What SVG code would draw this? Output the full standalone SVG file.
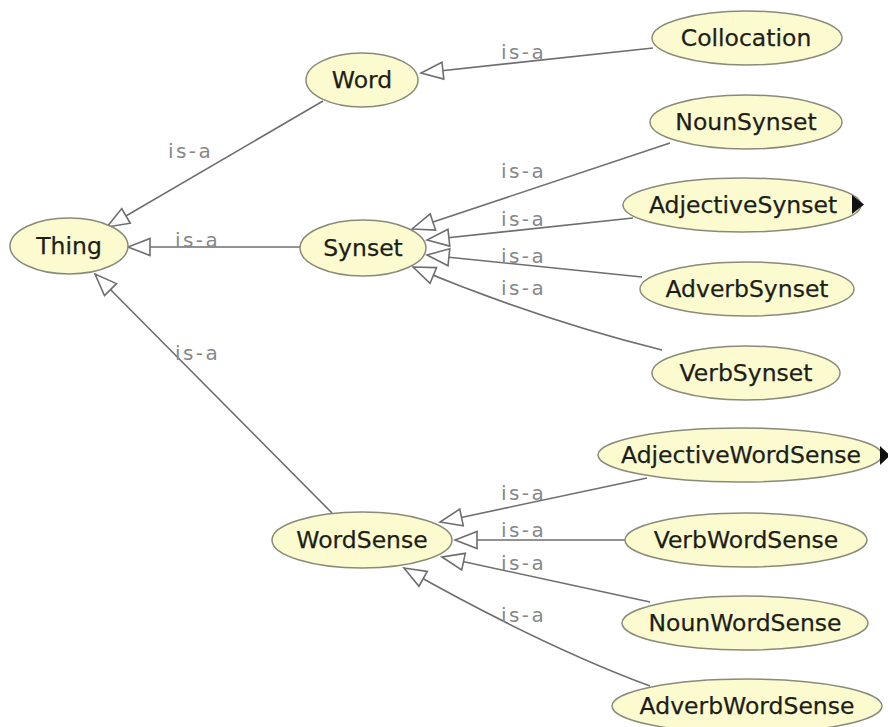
<svg xmlns="http://www.w3.org/2000/svg" width="888" height="727" viewBox="0 0 888 727">
<style>
  .node ellipse { fill: #fbfbcf; stroke: #8a8a7a; stroke-width: 1.5; }
  .node text { font-family: "DejaVu Sans", "Liberation Sans", sans-serif; font-size: 23.5px; fill: #1e1e18; stroke: #1e1e18; stroke-width: 0.25; text-anchor: middle; }
  .edge { fill: none; stroke: #6e6e6e; stroke-width: 1.6; marker-end: url(#hollow); }
  .lbl { font-family: "DejaVu Sans", "Liberation Sans", sans-serif; font-size: 20px; letter-spacing: 2.4px; fill: #878787; }
  .exp { fill: #111; }
</style>
<defs>
  <marker id="hollow" markerUnits="userSpaceOnUse" viewBox="-24 -11 26 22" markerWidth="26" markerHeight="22" refX="0" refY="0" orient="auto">
    <path d="M0,0 L-22,-8.5 L-22,8.5 Z" fill="#ffffff" stroke="#6e6e6e" stroke-width="1.6" stroke-linejoin="miter"/>
  </marker>
</defs>
<rect x="0" y="0" width="888" height="727" fill="#ffffff"/>

<g id="connectors">
  <path class="edge" d="M323,101 L107,227"/>
  <path class="edge" d="M653,48 L421,73"/>
  <path class="edge" d="M300,247 L128,247"/>
  <path class="edge" d="M332,513 L95,274"/>
  <path class="edge" d="M670,143 L412,229"/>
  <path class="edge" d="M633,218 L427,240"/>
  <path class="edge" d="M642,277 L427,255"/>
  <path class="edge" d="M662,350 Q540,320 413,267"/>
  <path class="edge" d="M647,478 L440,522"/>
  <path class="edge" d="M625,540 L455,540"/>
  <path class="edge" d="M650,602 L442,557"/>
  <path class="edge" d="M650,686 Q540,645 404,568"/>
  <text class="lbl" x="501" y="59">is-a</text>
  <text class="lbl" x="168" y="158">is-a</text>
  <text class="lbl" x="175" y="247">is-a</text>
  <text class="lbl" x="175" y="360">is-a</text>
  <text class="lbl" x="501" y="178">is-a</text>
  <text class="lbl" x="501" y="226">is-a</text>
  <text class="lbl" x="501" y="263">is-a</text>
  <text class="lbl" x="501" y="295">is-a</text>
  <text class="lbl" x="501" y="500">is-a</text>
  <text class="lbl" x="501" y="537">is-a</text>
  <text class="lbl" x="501" y="570">is-a</text>
  <text class="lbl" x="501" y="622">is-a</text>
</g>

<g id="Thing" class="node"><ellipse cx="69" cy="246" rx="59" ry="28"/><text x="69" y="254">Thing</text></g>
<g id="Word" class="node"><ellipse cx="362" cy="80" rx="56" ry="27"/><text x="362" y="88">Word</text></g>
<g id="Synset" class="node"><ellipse cx="363" cy="248" rx="63" ry="28"/><text x="363" y="256">Synset</text></g>
<g id="WordSense" class="node"><ellipse cx="362" cy="540" rx="90" ry="28"/><text x="362" y="548">WordSense</text></g>
<g id="Collocation" class="node"><ellipse cx="747" cy="38" rx="95" ry="27"/><text x="746" y="46">Collocation</text></g>
<g id="NounSynset" class="node"><ellipse cx="746" cy="122" rx="96" ry="27"/><text x="746" y="130">NounSynset</text></g>
<g id="AdjectiveSynset" class="node"><ellipse cx="742" cy="205" rx="119" ry="27"/><text x="743" y="213">AdjectiveSynset</text><path class="exp" d="M852,195 L852,214 L864,204.5 Z"/></g>
<g id="AdverbSynset" class="node"><ellipse cx="747" cy="289" rx="107" ry="27"/><text x="747" y="297">AdverbSynset</text></g>
<g id="VerbSynset" class="node"><ellipse cx="746" cy="373" rx="94" ry="27"/><text x="746" y="381">VerbSynset</text></g>
<g id="AdjectiveWordSense" class="node"><ellipse cx="740" cy="455" rx="142" ry="27"/><text x="741" y="463">AdjectiveWordSense</text><path class="exp" d="M880,446 L880,465 L890,455.5 Z"/></g>
<g id="VerbWordSense" class="node"><ellipse cx="746" cy="540" rx="121" ry="27"/><text x="746" y="548">VerbWordSense</text></g>
<g id="NounWordSense" class="node"><ellipse cx="745" cy="623" rx="123" ry="27"/><text x="745" y="631">NounWordSense</text></g>
<g id="AdverbWordSense" class="node"><ellipse cx="747" cy="706" rx="135" ry="27"/><text x="747" y="714">AdverbWordSense</text></g>
</svg>
